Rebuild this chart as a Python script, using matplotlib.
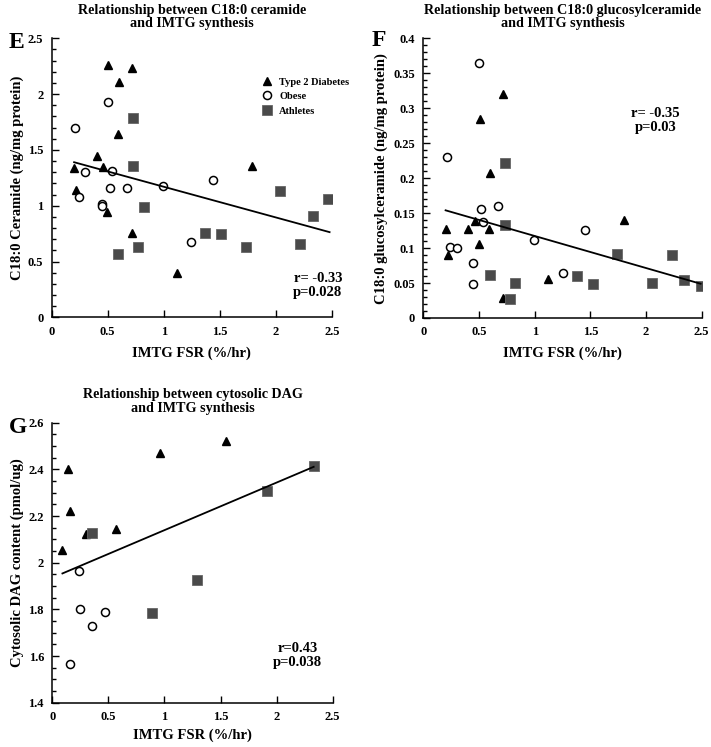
import matplotlib
matplotlib.use("Agg")
import matplotlib.pyplot as plt
from matplotlib.ticker import MultipleLocator, FuncFormatter

plt.rcParams['font.family'] = ['Liberation Serif', 'DejaVu Serif']
plt.rcParams['font.weight'] = 'bold'

# ---- panel E: C18:0 ceramide vs IMTG FSR ----
e_t2d_x = [0.20, 0.22, 0.40, 0.46, 0.50, 0.49, 0.60, 0.59, 0.72, 0.72, 1.12, 1.79]
e_t2d_y = [1.34, 1.14, 1.45, 1.35, 2.26, 0.94, 2.11, 1.64, 2.23, 0.76, 0.40, 1.36]
e_obese_x = [0.21, 0.24, 0.30, 0.45, 0.45, 0.50, 0.54, 0.52, 0.67, 0.99, 1.44, 1.24]
e_obese_y = [1.70, 1.08, 1.30, 1.02, 1.00, 1.93, 1.31, 1.16, 1.16, 1.18, 1.23, 0.68]
e_ath_x = [0.73, 0.73, 0.82, 0.59, 0.77, 1.37, 1.51, 1.73, 2.04, 2.22, 2.33, 2.47]
e_ath_y = [1.79, 1.36, 0.99, 0.57, 0.63, 0.76, 0.75, 0.63, 1.13, 0.66, 0.91, 1.065]
e_fit_x = [0.20, 2.48]
e_fit_y = [1.39, 0.764]

# ---- panel F: C18:0 glucosylceramide vs IMTG FSR ----
f_t2d_x = [0.20, 0.22, 0.40, 0.46, 0.51, 0.50, 0.60, 0.59, 0.72, 0.72, 1.12, 1.80]
f_t2d_y = [0.127, 0.090, 0.128, 0.139, 0.284, 0.106, 0.208, 0.128, 0.320, 0.028, 0.056, 0.140]
f_obese_x = [0.21, 0.24, 0.30, 0.45, 0.45, 0.50, 0.52, 0.54, 0.67, 0.99, 1.45, 1.25]
f_obese_y = [0.230, 0.102, 0.100, 0.079, 0.049, 0.364, 0.156, 0.137, 0.160, 0.111, 0.126, 0.064]
f_ath_x = [0.73, 0.73, 0.60, 0.78, 0.82, 1.38, 1.52, 1.74, 2.05, 2.23, 2.34, 2.49]
f_ath_y = [0.222, 0.133, 0.062, 0.027, 0.050, 0.060, 0.049, 0.092, 0.050, 0.090, 0.055, 0.046]
f_fit_x = [0.20, 2.49]
f_fit_y = [0.154, 0.049]

# ---- panel G: cytosolic DAG vs IMTG FSR ----
g_t2d_x = [0.09, 0.14, 0.16, 0.30, 0.565, 0.96, 1.55]
g_t2d_y = [2.054, 2.403, 2.221, 2.123, 2.143, 2.469, 2.521]
g_obese_x = [0.24, 0.25, 0.16, 0.35, 0.47]
g_obese_y = [1.964, 1.803, 1.564, 1.727, 1.789]
g_ath_x = [0.35, 0.89, 1.29, 1.91, 2.33]
g_ath_y = [2.129, 1.786, 1.926, 2.306, 2.416]
g_fit_x = [0.09, 2.33]
g_fit_y = [1.954, 2.411]

xlabel = "IMTG FSR (%/hr)"
sq_color = "#4a4a4a"


def fmt(v, pos):
    return "%g" % round(v, 3)


def draw_panel(ax, t2d, obese, ath, fit, ylim, ymajor, yminor, title, ylabel,
               ypad=4, xpad=6):
    ax.plot(t2d[0], t2d[1], "^", ms=5.2, color="black", mec="black", ls="none",
            label="Type 2 Diabetes")
    ax.plot(obese[0], obese[1], "o", ms=5.8, mfc="white", mec="black", mew=1.1,
            ls="none", label="Obese")
    ax.plot(ath[0], ath[1], "s", ms=6.5, color=sq_color, mec="#666666", mew=0.6,
            ls="none", label="Athletes")
    ax.plot(fit[0], fit[1], color="black", lw=1.3)

    ax.set_xlim(0, 2.5)
    ax.set_ylim(*ylim)
    ax.xaxis.set_major_locator(MultipleLocator(0.5))
    ax.yaxis.set_major_locator(MultipleLocator(ymajor))
    ax.yaxis.set_minor_locator(MultipleLocator(yminor))
    ax.xaxis.set_major_formatter(FuncFormatter(fmt))
    ax.yaxis.set_major_formatter(FuncFormatter(fmt))
    ax.tick_params(axis="both", which="major", direction="in", length=5, width=1,
                   labelsize=9, pad=6)
    ax.tick_params(axis="y", which="minor", direction="in", length=3, width=1)
    for s in ["top", "right"]:
        ax.spines[s].set_visible(False)
    for s in ["left", "bottom"]:
        ax.spines[s].set_linewidth(1.1)

    ax.set_title(title, fontsize=10.2, fontweight="bold", pad=8, linespacing=1.05)
    ax.set_ylabel(ylabel, fontsize=10.5, fontweight="bold", labelpad=ypad)
    ax.set_xlabel(xlabel, fontsize=10.5, fontweight="bold", labelpad=xpad)


fig = plt.figure(figsize=(7.11, 7.47), dpi=100)

ax_e = fig.add_axes([0.0727, 0.575, 0.394, 0.3738])
ax_f = fig.add_axes([0.5954, 0.5743, 0.3915, 0.3744])
ax_g = fig.add_axes([0.0736, 0.0593, 0.3944, 0.3748])

draw_panel(ax_e, (e_t2d_x, e_t2d_y), (e_obese_x, e_obese_y), (e_ath_x, e_ath_y),
           (e_fit_x, e_fit_y), (0, 2.5), 0.5, 0.1,
           "Relationship between C18:0 ceramide\nand IMTG synthesis",
           "C18:0 Ceramide (ng/mg protein)", ypad=3, xpad=6)
ax_e.legend(loc="upper left", bbox_to_anchor=(0.745, 0.86), frameon=False,
            fontsize=7.5, handletextpad=0.6, labelspacing=0.5, handlelength=1.2,
            borderpad=0, borderaxespad=0)
ax_e.text(0.95, 0.115, "r= -0.33\np=0.028", transform=ax_e.transAxes,
          ha="center", va="center", fontsize=10.5, fontweight="bold", linespacing=1.1)

draw_panel(ax_f, (f_t2d_x, f_t2d_y), (f_obese_x, f_obese_y), (f_ath_x, f_ath_y),
           (f_fit_x, f_fit_y), (0, 0.4), 0.05, 0.01,
           "Relationship between C18:0 glucosylceramide\nand IMTG synthesis",
           "C18:0 glucosylceramide (ng/mg protein)", ypad=4, xpad=6)
ax_f.text(0.835, 0.705, "r= -0.35\np=0.03", transform=ax_f.transAxes,
          ha="center", va="center", fontsize=10.5, fontweight="bold", linespacing=1.1)

draw_panel(ax_g, (g_t2d_x, g_t2d_y), (g_obese_x, g_obese_y), (g_ath_x, g_ath_y),
           (g_fit_x, g_fit_y), (1.4, 2.6), 0.2, 0.05,
           "Relationship between cytosolic DAG\nand IMTG synthesis",
           "Cytosolic DAG content (pmol/ug)", ypad=3, xpad=4)
ax_g.text(0.875, 0.17, "r=0.43\np=0.038", transform=ax_g.transAxes,
          ha="center", va="center", fontsize=10.5, fontweight="bold", linespacing=1.1)

# panel letters
fig.text(0.012, 0.943, "E", fontsize=17, fontweight="bold", va="center", ha="left")
fig.text(0.522, 0.946, "F", fontsize=17, fontweight="bold", va="center", ha="left")
fig.text(0.012, 0.428, "G", fontsize=17, fontweight="bold", va="center", ha="left")

fig.savefig("out.png", dpi=100)
